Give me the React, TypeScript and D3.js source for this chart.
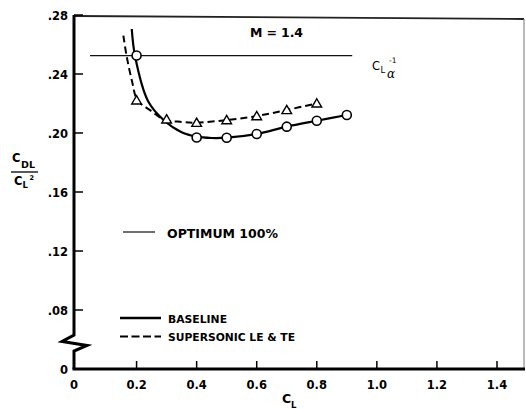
import React from "react";
import * as d3 from "d3";

// Data
const baselineX = [0.2, 0.4, 0.5, 0.6, 0.7, 0.8, 0.9];
const baselineY = [0.2525, 0.197, 0.1968, 0.1993, 0.2043, 0.2083, 0.2122];
const supersonicX = [0.2, 0.3, 0.4, 0.5, 0.6, 0.7, 0.8];
const supersonicY = [0.2222, 0.2093, 0.207, 0.2088, 0.2115, 0.2156, 0.2201];
// faired curves
const baselineCurveX = [0.184, 0.195, 0.238, 0.29, 0.35, 0.4, 0.45, 0.5, 0.6, 0.7, 0.8, 0.9];
const baselineCurveY = [0.2705, 0.252, 0.2217, 0.2088, 0.2005, 0.1975, 0.1966, 0.1968, 0.1993, 0.2043, 0.2083, 0.2122];
const supersonicCurveX = [0.156, 0.167, 0.185, 0.203, 0.245, 0.29, 0.35, 0.4, 0.5, 0.6, 0.7, 0.8];
const supersonicCurveY = [0.266, 0.252, 0.235, 0.2222, 0.2155, 0.2093, 0.2075, 0.207, 0.2088, 0.2115, 0.2156, 0.2201];
const optimumLevel = 0.2525;
const optimumRange = [0.045, 0.918];
const xTicks = [0, 0.2, 0.4, 0.6, 0.8, 1.0, 1.2, 1.4];
const xTickLabels = ["0", "0.2", "0.4", "0.6", "0.8", "1.0", "1.2", "1.4"];
const yTicks = [0.04, 0.08, 0.12, 0.16, 0.2, 0.24, 0.28];
const yTickLabels = ["0", ".08", ".12", ".16", ".20", ".24", ".28"];

const FONT = "'DejaVu Sans', 'Liberation Sans', Arial, sans-serif";

export default function App() {
  const x = d3.scaleLinear().domain([0, 1.4]).range([76.5, 497]);
  const y = d3.scaleLinear().domain([0.04, 0.28]).range([369, 15]);
  const line = d3
    .line<[number, number]>()
    .x((d) => x(d[0]))
    .y((d) => y(d[1]))
    .curve(d3.curveCatmullRom.alpha(0.5));
  const basePath = line(baselineCurveX.map((v, i) => [v, baselineCurveY[i]]) as [number, number][]) || "";
  const superPath = line(supersonicCurveX.map((v, i) => [v, supersonicCurveY[i]]) as [number, number][]) || "";

  const y0 = y(0.04);
  const x0 = 74;
  const tri = (cx: number, cy: number) => {
    const s = 4.6;
    return `M${cx},${cy - s} L${cx + s * 1.05},${cy + s * 0.8} L${cx - s * 1.05},${cy + s * 0.8} Z`;
  };

  // axis with break
  const yAxisPath = `M${x0},${y(0.28)} L${x0},335 L62,341.5 L87,345.5 L${x0},351 L${x0},${y0}`;

  return (
    <svg width={526} height={409} style={{ position: "absolute", left: 0, top: 0, background: "#fff" }}>
      <rect x={0} y={0} width={526} height={409} fill="#fff" />
      {/* frame */}
      <line x1={x0} y1={16} x2={524} y2={19} stroke="#222" strokeWidth={1.8} />
      <line x1={524} y1={19} x2={524} y2={y0} stroke="#777" strokeWidth={1} />
      {/* y axis */}
      <path d={yAxisPath} fill="none" stroke="#000" strokeWidth={3} strokeLinejoin="miter" />
      {yTicks.map((t, i) =>
        t > 0.04 ? <line key={"yt" + i} x1={x0} x2={83} y1={y(t)} y2={y(t)} stroke="#000" strokeWidth={1.5} /> : null
      )}
      {yTicks.map((t, i) => (
        <text key={"yl" + i} x={68} y={y(t) + 4.5} textAnchor="end" fontFamily={FONT} fontWeight="bold" fontSize={11.5}>
          {yTickLabels[i]}
        </text>
      ))}
      {/* x axis */}
      <line x1={x0 - 1.5} x2={525} y1={y0} y2={y0} stroke="#000" strokeWidth={3} />
      {xTicks.map((t, i) =>
        t > 0 ? <line key={"xt" + i} x1={x(t)} x2={x(t)} y1={y0} y2={y0 - 8} stroke="#000" strokeWidth={1.5} /> : null
      )}
      {xTicks.map((t, i) => (
        <text key={"xl" + i} x={t === 0 ? 74 : x(t)} y={389} textAnchor="middle" fontFamily={FONT} fontWeight="bold" fontSize={11.5}>
          {xTickLabels[i]}
        </text>
      ))}
      {/* x title */}
      <text x={282} y={403} fontFamily={FONT} fontWeight="bold" fontSize={12.5}>
        C
      </text>
      <text x={291} y={408} fontFamily={FONT} fontWeight="bold" fontSize={8.5}>
        L
      </text>
      {/* y title */}
      <text x={12} y={162} fontFamily={FONT} fontWeight="bold" fontSize={11.5}>
        C
      </text>
      <text x={21} y={168} fontFamily={FONT} fontWeight="bold" fontSize={9.5}>
        DL
      </text>
      <line x1={11} x2={38} y1={172} y2={172} stroke="#000" strokeWidth={1.3} />
      <text x={14} y={185} fontFamily={FONT} fontWeight="bold" fontSize={11.5}>
        C
      </text>
      <text x={22.5} y={188} fontFamily={FONT} fontWeight="bold" fontSize={8.5}>
        L
      </text>
      <text x={29.5} y={180} fontFamily={FONT} fontWeight="bold" fontSize={6.5}>
        2
      </text>
      {/* optimum line */}
      <line x1={x(optimumRange[0])} x2={x(optimumRange[1])} y1={y(optimumLevel)} y2={y(optimumLevel)} stroke="#111" strokeWidth={1.3} />
      <text x={372} y={70} fontFamily={FONT} fontSize={11.5}>
        C
      </text>
      <text x={380.5} y={73} fontFamily={FONT} fontSize={8.5}>
        L
      </text>
      <text x={387} y={78} fontFamily="'DejaVu Serif', serif" fontStyle="italic" fontSize={12}>
        α
      </text>
      <text x={389} y={63} fontFamily={FONT} fontSize={7.5}>
        -1
      </text>
      <text x={250} y={37} fontFamily={FONT} fontWeight="bold" fontSize={12.5} textLength={53} lengthAdjust="spacing">
        M = 1.4
      </text>
      {/* curves */}
      <path d={basePath} fill="none" stroke="#000" strokeWidth={2.2} />
      <path d={superPath} fill="none" stroke="#000" strokeWidth={2} strokeDasharray="7,4" />
      {baselineX.map((v, i) => (
        <circle key={"c" + i} cx={x(v)} cy={y(baselineY[i])} r={4.5} fill="#fff" stroke="#000" strokeWidth={1.6} />
      ))}
      {supersonicX.map((v, i) => (
        <path key={"t" + i} d={tri(x(v), y(supersonicY[i]))} fill="#fff" stroke="#000" strokeWidth={1.4} />
      ))}
      {/* legend */}
      <line x1={123} x2={155} y1={232} y2={232} stroke="#111" strokeWidth={1.2} />
      <text x={167} y={237.5} fontFamily={FONT} fontWeight="bold" fontSize={13} textLength={111} lengthAdjust="spacingAndGlyphs">
        OPTIMUM 100%
      </text>
      <line x1={120} x2={161} y1={318} y2={318} stroke="#000" strokeWidth={2.4} />
      <text x={168} y={322.5} fontFamily={FONT} fontWeight="bold" fontSize={11} textLength={59} lengthAdjust="spacingAndGlyphs">
        BASELINE
      </text>
      <path d="M120,336.5 L161,336.5" stroke="#000" strokeWidth={2.2} strokeDasharray="8,3.5" />
      <text x={168} y={341} fontFamily={FONT} fontWeight="bold" fontSize={11} textLength={127} lengthAdjust="spacingAndGlyphs">
        SUPERSONIC LE &amp; TE
      </text>
    </svg>
  );
}
